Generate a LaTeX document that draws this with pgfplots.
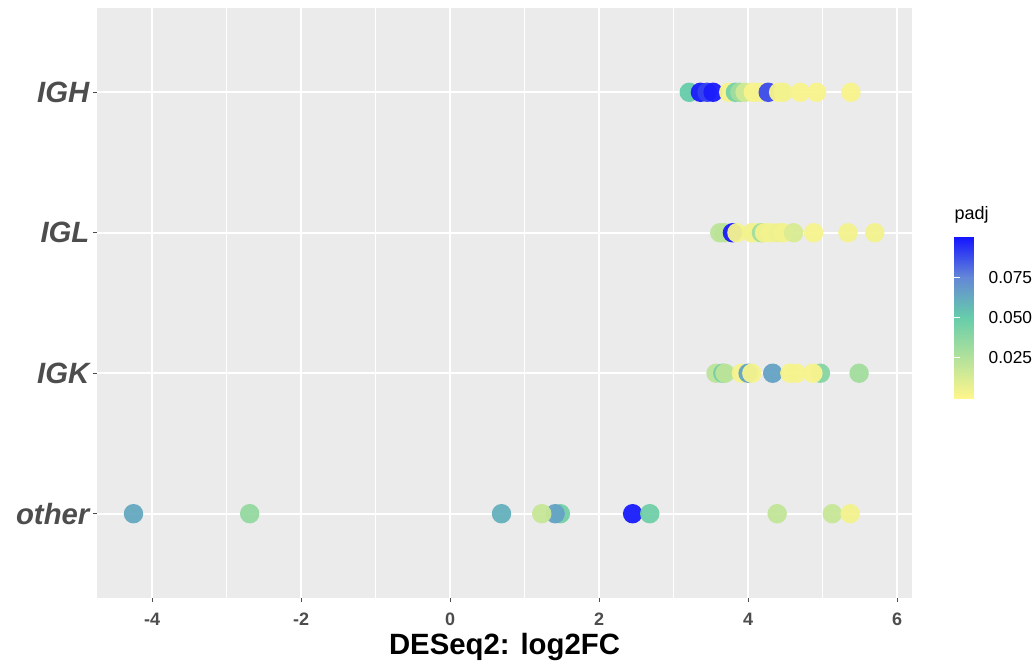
\documentclass[border=0pt]{standalone}
\usepackage{fontspec}
\setmainfont{Liberation Sans}
\usepackage{pgfplots}
\pgfplotsset{compat=1.18}
\usepackage{pgfplotstable}

\definecolor{ggbg}{RGB}{235,235,235}
\definecolor{ggtext}{RGB}{77,77,77}

% log2FC, row (1 = other ... 4 = IGH), padj
\pgfplotstableread{
x y p
3.21 4 0.050
3.36 4 0.098
3.45 4 0.090
3.53 4 0.098
3.74 4 0.002
3.83 4 0.045
3.89 4 0.030
3.96 4 0.015
4.07 4 0.002
4.16 4 0.003
4.27 4 0.088
4.41 4 0.002
4.47 4 0.004
4.70 4 0.002
4.92 4 0.002
5.38 4 0.002
3.62 3 0.022
3.68 3 0.022
3.79 3 0.098
3.85 3 0.003
4.05 3 0.004
4.12 3 0.004
4.18 3 0.030
4.22 3 0.004
4.30 3 0.004
4.41 3 0.006
4.47 3 0.004
4.61 3 0.012
4.88 3 0.003
5.34 3 0.004
5.70 3 0.004
3.57 2 0.022
3.66 2 0.045
3.69 2 0.022
3.91 2 0.003
4.00 2 0.065
4.05 2 0.003
4.33 2 0.065
4.56 2 0.003
4.65 2 0.003
4.97 2 0.040
4.87 2 0.002
5.49 2 0.030
-4.25 1 0.063
-2.69 1 0.035
0.69 1 0.060
1.48 1 0.045
1.41 1 0.065
1.23 1 0.018
2.45 1 0.098
2.68 1 0.047
4.39 1 0.020
5.13 1 0.018
5.37 1 0.004
}\genes

\begin{document}
\begin{tikzpicture}
\begin{axis}[
    scale only axis,
    width=611.25pt, height=442.5pt,
    xmin=-4.74, xmax=6.2, ymin=0.4, ymax=4.6,
    axis background/.style={fill=ggbg},
    axis line style={draw=none},
    xtick={-4,-2,0,2,4,6},
    xticklabels={-4,-2,0,2,4,6},
    minor xtick={-3,-1,1,3,5},
    ytick={1,2,3,4},
    yticklabels={other,IGK,IGL,IGH},
    xtick pos=bottom, ytick pos=left,
    grid=both,
    major grid style={white, line width=1.4pt},
    minor grid style={white, line width=0.7pt},
    tick align=outside,
    major tick length=3pt, minor tick length=0pt,
    tick style={ggtext, line width=0.8pt},
    xticklabel style={font=\fontsize{13.5}{13.5}\selectfont\bfseries, text=ggtext, inner sep=0pt, yshift=-8pt},
    yticklabel style={font=\fontsize{22}{22}\selectfont\bfseries\itshape, text=ggtext, inner sep=0pt, xshift=-2.5pt},
    xlabel={DESeq2: log2FC},
    xlabel style={at={(axis description cs:0.5,0)}, anchor=base, yshift=-42.75pt, font=\fontsize{22}{22}\selectfont\bfseries},
    colormap={padj}{rgb255(0cm)=(255,246,140) rgb255(2cm)=(102,205,170) rgb255(3cm)=(100,135,215) rgb255(4cm)=(20,20,255)},
    point meta min=0, point meta max=0.1,
    colorbar,
    colorbar style={
        at={(parent axis.east)}, anchor=west, xshift=23.25pt, yshift=-10.8pt,
        scale only axis, width=24pt, height=121pt,
        axis line style={draw=none},
        ytick={0.025,0.05,0.075},
        yticklabels={0.025,0.050,0.075},
        ytick pos=both, yticklabel pos=right,
        tick align=inside, major tick length=4.5pt,
        tick style={white, line width=0.6pt},
        yticklabel style={font=\fontsize{13}{13}\selectfont, text=black, inner sep=0pt, xshift=1.5pt},
        title={padj},
        title style={at={(0,1)}, anchor=south west, inner sep=0pt, yshift=4pt, font=\fontsize{13.5}{13.5}\selectfont},
    },
]
\addplot[scatter, only marks, mark=*, mark size=7.3pt,
    scatter src=explicit,
    scatter/use mapped color={draw opacity=0, fill=mapped color, fill opacity=0.95}]
    table[x=x, y=y, meta=p] {\genes};
\end{axis}
\path (-72.75pt,-48.75pt) rectangle (702pt,448.5pt);
\end{tikzpicture}
\end{document}
